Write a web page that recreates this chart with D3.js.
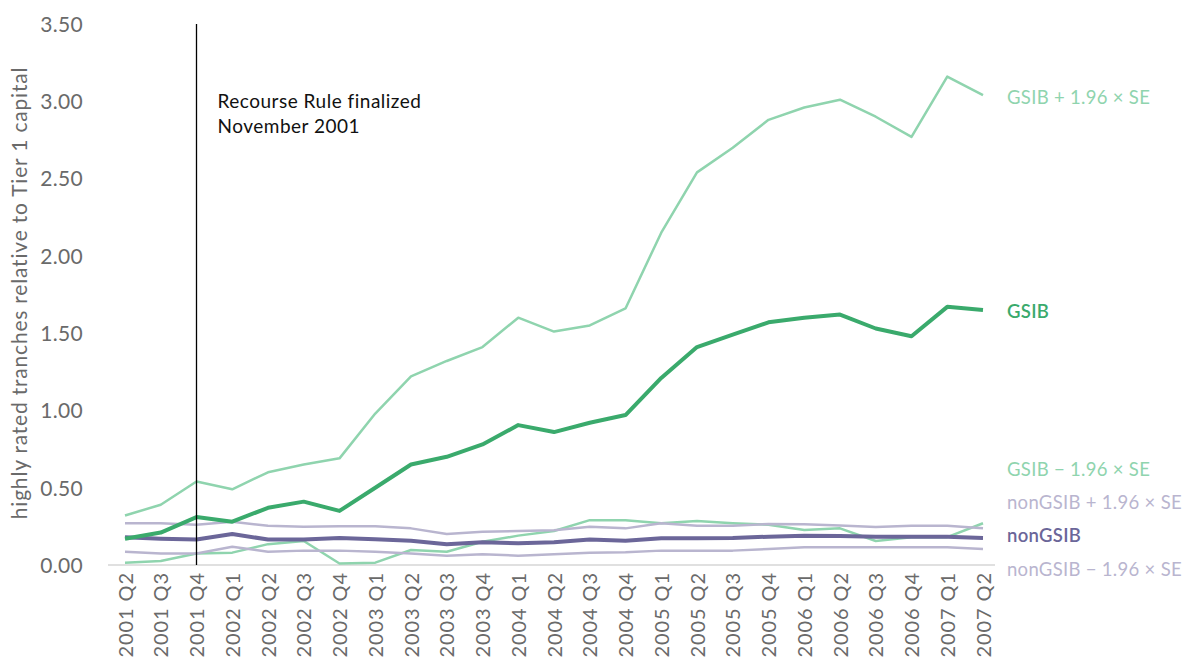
<!DOCTYPE html>
<html>
<head>
<meta charset="utf-8">
<script src="https://d3js.org/d3.v7.min.js"></script>
<style>
  body { margin: 0; background: #fff; }
  text { font-family: Lato, "Open Sans", sans-serif; }
</style>
</head>
<body>
<script>
// quarters on the x axis
var quarters = ["2001 Q2","2001 Q3","2001 Q4","2002 Q1","2002 Q2","2002 Q3","2002 Q4",
  "2003 Q1","2003 Q2","2003 Q3","2003 Q4","2004 Q1","2004 Q2","2004 Q3","2004 Q4",
  "2005 Q1","2005 Q2","2005 Q3","2005 Q4","2006 Q1","2006 Q2","2006 Q3","2006 Q4",
  "2007 Q1","2007 Q2"];

var gsib = [0.17,0.21,0.31,0.28,0.37,0.41,0.35,0.50,0.65,0.70,0.78,0.905,0.86,0.92,0.97,
  1.21,1.41,1.49,1.57,1.60,1.62,1.53,1.48,1.67,1.65];
var gsibHi = [0.32,0.39,0.54,0.49,0.60,0.65,0.69,0.98,1.22,1.32,1.41,1.60,1.51,1.55,1.66,
  2.15,2.54,2.70,2.88,2.96,3.01,2.90,2.77,3.16,3.04];
var gsibLo = [0.015,0.026,0.075,0.08,0.135,0.155,0.01,0.015,0.097,0.086,0.15,0.19,0.22,0.29,0.29,
  0.27,0.285,0.27,0.26,0.226,0.237,0.155,0.18,0.18,0.27];
var nongsib = [0.18,0.17,0.165,0.20,0.165,0.165,0.175,0.167,0.157,0.134,0.147,0.14,0.147,0.165,0.157,
  0.173,0.173,0.175,0.183,0.19,0.187,0.183,0.183,0.183,0.175];
var nongsibHi = [0.27,0.27,0.26,0.28,0.254,0.248,0.25,0.25,0.237,0.20,0.215,0.22,0.225,0.248,0.237,
  0.27,0.254,0.254,0.265,0.263,0.256,0.246,0.254,0.254,0.237];
var nongsibLo = [0.086,0.075,0.075,0.118,0.086,0.093,0.093,0.086,0.075,0.06,0.07,0.06,0.07,0.08,0.082,
  0.093,0.093,0.093,0.103,0.115,0.115,0.115,0.115,0.115,0.103];

var yTicks = [0, 0.5, 1.0, 1.5, 2.0, 2.5, 3.0, 3.5];

var seriesNames = ["GSIB + 1.96 \u00d7 SE", "GSIB \u2212 1.96 \u00d7 SE", "nonGSIB + 1.96 \u00d7 SE",
  "nonGSIB \u2212 1.96 \u00d7 SE", "nonGSIB", "GSIB"];
var seriesValues = [gsibHi, gsibLo, nongsibHi, nongsibLo, nongsib, gsib];

// styling per series (same order)
var colors = ["#8fd4ae", "#8fd4ae", "#b9b5cf", "#b9b5cf", "#6b6699", "#3aaa6c"];
var widths = [2.5, 2.5, 2.5, 2.5, 4, 4];
var labelY = [98, 470, 503, 570, 536, 312];
var labelBold = [false, false, false, false, true, true];

var eventQuarter = "2001 Q4";

var w = 1185, h = 664;

var svg = d3.select("body").append("svg")
  .attr("width", w)
  .attr("height", h);

var x = d3.scalePoint()
  .domain(quarters)
  .range([125, 983]);

var y = d3.scaleLinear()
  .domain([0, 3.5])
  .range([565, 24]);

// y axis labels
svg.append("g")
  .attr("transform", "translate(86,0)")
  .call(d3.axisLeft(y).tickValues(yTicks).tickFormat(d3.format(".2f")).tickSize(0))
  .call(function(g) { g.select(".domain").remove(); })
  .selectAll("text")
    .attr("fill", "#6a6a6a")
    .attr("font-size", 21)
    .attr("letter-spacing", 0.3)
    .attr("dy", "0.35em");

svg.append("text")
  .attr("transform", "translate(27,293) rotate(-90)")
  .attr("text-anchor", "middle")
  .attr("fill", "#6a6a6a")
  .attr("font-size", 21)
  .attr("letter-spacing", 0.8)
  .text("highly rated tranches relative to Tier 1 capital");

// x axis
svg.append("line")
  .attr("x1", 108).attr("x2", 995)
  .attr("y1", y(0)).attr("y2", y(0))
  .attr("stroke", "#d6d6d6")
  .attr("stroke-width", 1.5);

svg.append("g")
  .attr("transform", "translate(0," + y(0) + ")")
  .call(d3.axisBottom(x).tickSize(0))
  .call(function(g) { g.select(".domain").remove(); })
  .selectAll("text")
    .attr("fill", "#6a6a6a")
    .attr("font-size", 20)
    .attr("letter-spacing", 0.9)
    .attr("text-anchor", "end")
    .attr("transform", "rotate(-90)")
    .attr("x", -7)
    .attr("y", 0)
    .attr("dy", "0.35em");

// lines
var line = d3.line()
  .x(function(d, i) { return x(quarters[i]); })
  .y(function(d) { return y(d); });

svg.append("g")
  .selectAll("path")
  .data(seriesValues)
  .enter().append("path")
    .attr("d", line)
    .attr("fill", "none")
    .attr("stroke", function(d, i) { return colors[i]; })
    .attr("stroke-width", function(d, i) { return widths[i]; })
    .attr("stroke-linejoin", "round");

// event marker
svg.append("line")
  .attr("x1", x(eventQuarter)).attr("x2", x(eventQuarter))
  .attr("y1", y(3.5)).attr("y2", y(0))
  .attr("stroke", "#000")
  .attr("stroke-width", 1.3);

var note = svg.append("text")
  .attr("x", x(eventQuarter) + 21)
  .attr("y", 108)
  .attr("font-size", 19)
  .attr("letter-spacing", 0.5)
  .attr("fill", "#111");
note.append("tspan").attr("x", x(eventQuarter) + 21).text("Recourse Rule finalized");
note.append("tspan").attr("x", x(eventQuarter) + 21).attr("dy", 25).text("November 2001");

// right hand labels
svg.append("g")
  .selectAll("text")
  .data(seriesNames)
  .enter().append("text")
    .attr("x", 1007)
    .attr("y", function(d, i) { return labelY[i]; })
    .attr("dy", "0.35em")
    .attr("font-size", 18.5)
    .attr("letter-spacing", 0.3)
    .attr("font-weight", function(d, i) { return labelBold[i] ? 600 : 400; })
    .attr("fill", function(d, i) { return colors[i]; })
    .text(function(d) { return d; });
</script>
</body>
</html>
